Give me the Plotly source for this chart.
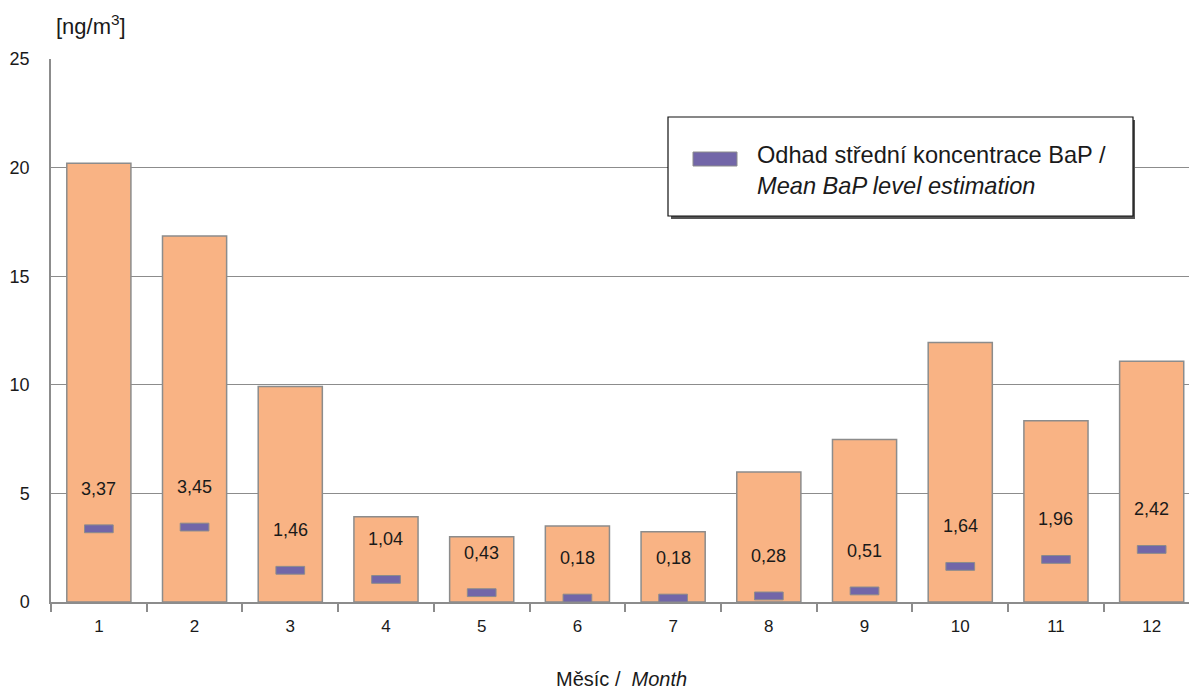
import plotly.graph_objects as go

months = ["1", "2", "3", "4", "5", "6", "7", "8", "9", "10", "11", "12"]
bar_values = [20.2, 16.85, 9.92, 3.92, 3.0, 3.5, 3.23, 5.98, 7.48, 11.95, 8.35, 11.08]
mean_values = [3.37, 3.45, 1.46, 1.04, 0.43, 0.18, 0.18, 0.28, 0.51, 1.64, 1.96, 2.42]
mean_labels = ["3,37", "3,45", "1,46", "1,04", "0,43", "0,18", "0,18", "0,28", "0,51", "1,64", "1,96", "2,42"]
y_ticks = [0, 5, 10, 15, 20, 25]

FONT = "Liberation Sans, Arial, sans-serif"
TXT = "#1a1a1a"
dash_h = 0.36

W, H = 1190, 693
pl, pr, pt, pb = 51, 1, 59, 91
pw, ph = W - pl - pr, H - pt - pb
def px(x):
    return (x - pl) / pw
def py(y):
    return 1 - (y - pt) / ph

fig = go.Figure()
fig.add_trace(go.Bar(
    x=months, y=bar_values, width=0.67,
    marker=dict(color="#F9B384", line=dict(color="#8C8C8C", width=1.5)),
    showlegend=False, hoverinfo="y",
))
fig.add_trace(go.Bar(
    x=months, y=[dash_h] * len(mean_values), base=[v - dash_h / 2 for v in mean_values],
    width=0.3,
    marker=dict(color="#7266A8", line=dict(color="#8C8C8C", width=1)),
    showlegend=False, hoverinfo="skip",
))

annotations = []
for i, (v, lab) in enumerate(zip(mean_values, mean_labels)):
    annotations.append(dict(x=i, y=v, xref="x", yref="y", text=lab, showarrow=False,
                            yshift=40, font=dict(family=FONT, size=18, color=TXT)))

annotations.append(dict(x=px(54), y=py(25), xref="paper", yref="paper", xanchor="left", yanchor="middle",
                        text="[ng/m<sup>3</sup>]", showarrow=False,
                        font=dict(family=FONT, size=22, color=TXT)))
annotations.append(dict(x=px(621), y=py(692), xref="paper", yref="paper", xanchor="center", yanchor="bottom",
                        text="Měsíc /  <i>Month</i>", showarrow=False,
                        font=dict(family=FONT, size=20, color=TXT)))
annotations.append(dict(x=px(755), y=py(170), xref="paper", yref="paper", xanchor="left", yanchor="middle",
                        text="Odhad střední koncentrace BaP /<br><i>Mean BaP level estimation</i>",
                        align="left", showarrow=False,
                        font=dict(family=FONT, size=23.6, color=TXT)))

shapes = [
    dict(type="rect", xref="paper", yref="paper", x0=px(671), x1=px(1135), y0=py(219), y1=py(120),
         fillcolor="#555555", line=dict(width=0), layer="above"),
    dict(type="rect", xref="paper", yref="paper", x0=px(668), x1=px(1133), y0=py(216), y1=py(117),
         fillcolor="white", line=dict(color="#111111", width=1.2), layer="above"),
    dict(type="rect", xref="paper", yref="paper", x0=px(693), x1=px(737), y0=py(166), y1=py(152),
         fillcolor="#7266A8", line=dict(color="#8C8C8C", width=1), layer="above"),
]

fig.update_layout(
    width=W, height=H,
    margin=dict(l=pl, r=pr, t=pt, b=pb, autoexpand=False),
    paper_bgcolor="white", plot_bgcolor="white",
    barmode="overlay",
    showlegend=False,
    xaxis=dict(
        type="category", showline=True, linecolor="#8C8C8C", linewidth=1.5,
        ticks="outside", tickson="boundaries", ticklen=8, tickcolor="#8C8C8C", tickwidth=1.5,
        tickfont=dict(family=FONT, size=17, color=TXT), ticklabelstandoff=8,
        showgrid=False, range=[-0.5, 11.39],
    ),
    yaxis=dict(
        range=[0, 25], tickvals=y_ticks, showline=True, linecolor="#8C8C8C", linewidth=1.5,
        showgrid=True, gridcolor="#8C8C8C", gridwidth=1, ticks="",
        tickfont=dict(family=FONT, size=18, color=TXT),
        ticklabelstandoff=16, zeroline=False,
    ),
    annotations=annotations,
    shapes=shapes,
)

fig.write_html("out.html", config={"displayModeBar": False},
               post_script="document.body.style.margin='0';document.body.style.padding='0';")
